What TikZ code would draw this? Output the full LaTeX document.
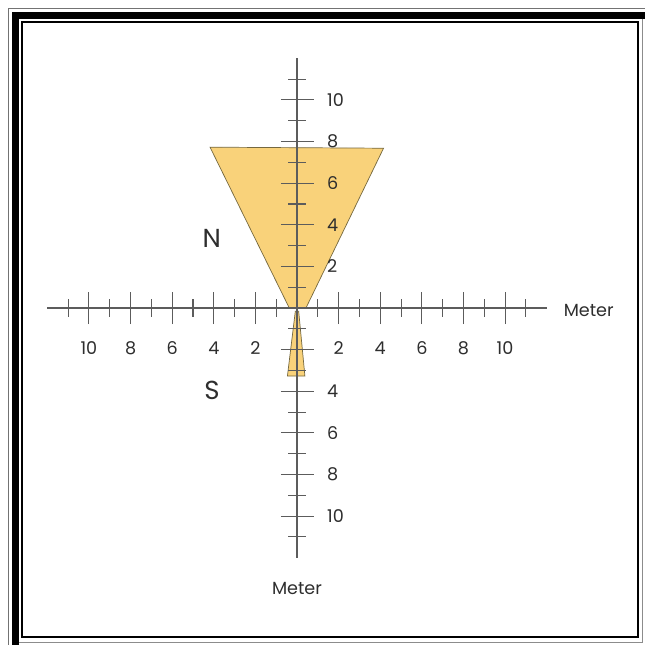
\documentclass[tikz,border=0pt]{standalone}
\usepackage{fontspec}
\setmainfont{Poppins}
\usepackage{tikz}
\usetikzlibrary{positioning}
\usepackage{xcolor}
\definecolor{axisgray}{HTML}{5C5C5C}
\definecolor{sand}{HTML}{F9D27A}
\definecolor{sandedge}{HTML}{75683F}
\definecolor{labelink}{HTML}{2E2E2E}
\tikzset{axisline/.style={draw=axisgray,line width=.75pt},wedge/.style={fill=sand,draw=sandedge,line width=.5pt},ticklabel/.style={font=\fontsize{12.5}{14}\selectfont,text=labelink,inner sep=0pt},compass/.style={font=\fontsize{18.5}{20}\selectfont,text=labelink,inner sep=0pt}}

\begin{document}
\begin{tikzpicture}[x=0.025cm,y=-0.025cm]
\useasboundingbox (0,0) rectangle (645,645);
\clip (0,0) rectangle (645,645);
\fill[white] (0,0) rectangle (645,645);
% frame
\draw[black!55,line width=1.3pt] (8.5,660) -- (8.5,8.5) -- (660,8.5);
\draw[black,line width=5.2pt] (15.3,660) -- (15.3,15.3) -- (660,15.3);
\draw[black!45,line width=.8pt] (19,642.3) -- (642.3,642.3) -- (642.3,19);
\draw[black,line width=1.4pt] (22.2,22.2) rectangle (637.6,636.8);
\begin{scope}[shift={(297,308)},x=0.52cm,y=0.52cm]
% sectors
\filldraw[wedge] (-4.18,7.73) -- (4.16,7.68) -- (0.43,0) -- (-0.37,0) -- cycle;
\filldraw[wedge] (-0.08,-0.15) -- (0.08,-0.15) -- (0.38,-3.27) -- (-0.46,-3.27) -- cycle;
% axes
\coordinate (west) at (-12,0);
\coordinate (east) at (12,0);
\coordinate (north) at (0,12);
\coordinate (south) at (0,-12);
\draw[axisline] (west) -- (east);
\draw[axisline] (north) -- (south);
\foreach \m in {1,3,...,11}{\draw[axisline] (\m,-.41)--(\m,.41); \draw[axisline] (-\m,-.41)--(-\m,.41); \draw[axisline] (-.41,\m)--(.41,\m); \draw[axisline] (-.41,-\m)--(.41,-\m);}
\foreach \m in {2,4,...,10}{\draw[axisline] (\m,-.78)--(\m,.78); \draw[axisline] (-\m,-.78)--(-\m,.78); \draw[axisline] (-.78,\m)--(.8,\m); \draw[axisline] (-.78,-\m)--(.8,-\m);
\node[ticklabel] (e\m) at (\m,-1.92) {\m};
\node[ticklabel] (w\m) at (-\m,-1.92) {\m};
\node[ticklabel,anchor=west] (n\m) at (1.44,\m) {\m};}
\foreach \m in {4,6,...,10}{\node[ticklabel,anchor=west] (s\m) at (1.44,-\m) {\m};}
\node[ticklabel] (xunit) at (14.02,-.13) {Meter};
\node[ticklabel] (yunit) at (0,-13.46) {Meter};
\node[compass] (north label) at (-4.1,3.33) {N};
\node[compass] (south label) at (-4.09,-3.94) {S};
\end{scope}
\end{tikzpicture}
\end{document}
